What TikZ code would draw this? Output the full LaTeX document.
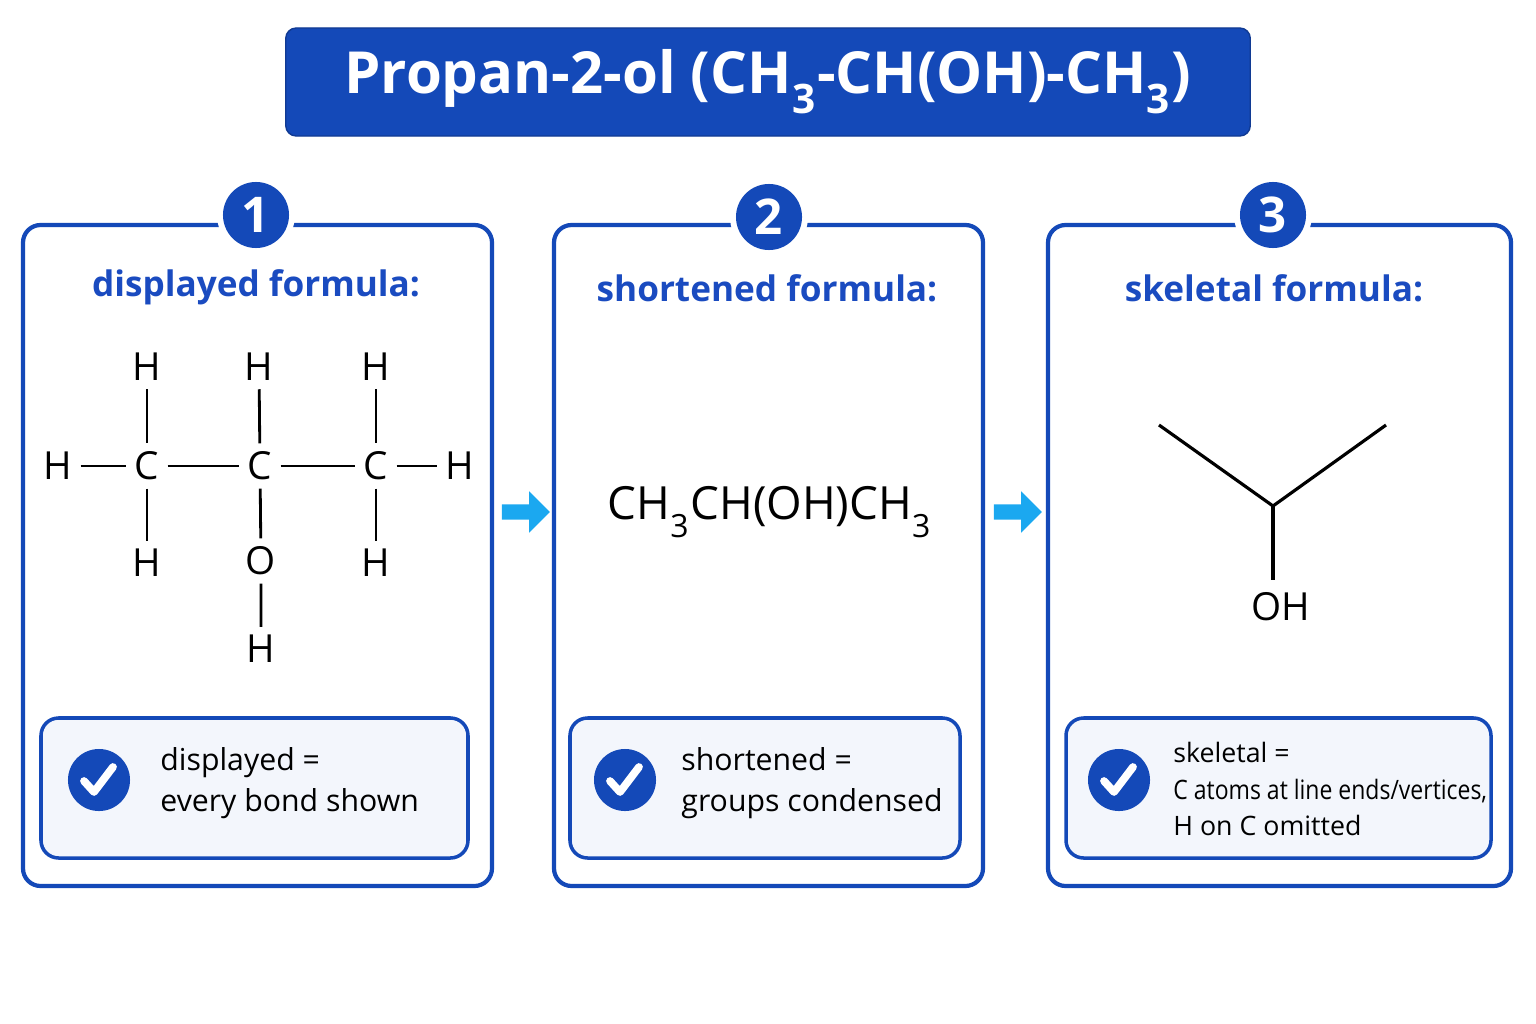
\documentclass[tikz,border=0pt]{standalone}
\usepackage{fontspec}
\setmainfont{Open Sans}
\usetikzlibrary{shapes.arrows}
\definecolor{navy}{HTML}{1449B8}
\definecolor{headblue}{HTML}{1A4BC0}
\definecolor{sky}{HTML}{1BA8F0}
\definecolor{pale}{HTML}{F3F6FC}
\newcommand{\lowsub}[1]{\raisebox{-0.35ex}{\textsubscript{#1}}}
\tikzset{
  panel/.style={draw=navy, line width=1.2pt, rounded corners=5pt, fill=white},
  note/.style={draw=navy, line width=1pt, rounded corners=5pt, fill=pale},
  num/.style={circle, fill=navy, text=white, minimum size=0.66cm, inner sep=0pt, font=\bfseries\fontsize{14}{14}\selectfont},
  tick/.style={circle, fill=navy, minimum size=0.62cm, inner sep=0pt},
  head/.style={text=headblue, font=\bfseries\fontsize{10}{12}\selectfont},
  atom/.style={inner sep=2.2pt, font=\fontsize{11}{12}\selectfont},
  bond/.style={line width=0.8pt},
  arr/.style={single arrow, fill=sky, inner sep=0.07cm, single arrow head extend=0.13cm, minimum height=0.48cm, text width=0pt}
}
\begin{document}
\begin{tikzpicture}[x=0.01cm,y=-0.01cm]
\useasboundingbox (0,0) rectangle (1536,1024);

% title
\node[draw=navy!80!black, fill=navy, rounded corners=3pt, minimum width=9.64cm, minimum height=1.08cm, text=white,
  font=\bfseries\fontsize{16.5}{20}\selectfont] (title) at (768,82) {Propan-2-ol (CH\lowsub{3}-CH(OH)-CH\lowsub{3})};

% panels
\draw[panel] (23,225) rectangle (492,886);
\draw[panel] (554,225) rectangle (983,886);
\draw[panel] (1048,225) rectangle (1511,886);

% numbers
\foreach \x/\y/\n in {256/215/1, 769/217/2, 1273/215/3}{
  \fill[white] (\x,\y) circle (39);
  \node[num] (n\n) at (\x,\y) {\n};
}

\node[head] (h1) at (256,287) {displayed formula:};
\node[head] (h2) at (767,288) {shortened formula:};
\node[head] (h3) at (1274,288) {skeletal formula:};

% displayed formula
\node[atom] (c1) at (147,466) {C};
\node[atom] (c2) at (260,466) {C};
\node[atom] (c3) at (376,466) {C};
\node[atom] (hl) at (58,466) {H};
\node[atom] (hr) at (460,466) {H};
\node[atom] (t1) at (147,367) {H};
\node[atom] (t2) at (259,367) {H};
\node[atom] (t3) at (376,367) {H};
\node[atom] (b1) at (147,563) {H};
\node[atom] (o) at (261,561) {O};
\node[atom] (b3) at (376,563) {H};
\node[atom] (ho) at (261,649) {H};
\draw[bond] (hl) -- (c1) -- (c2) -- (c3) -- (hr);
\draw[bond] (t1) -- (c1) -- (b1);
\draw[bond] (t2) -- (c2) -- (o) -- (ho);
\draw[bond] (t3) -- (c3) -- (b3);

% shortened formula
\node[font=\fontsize{13}{14}\selectfont] (sf) at (770,512) {CH\lowsub{3}CH(OH)CH\lowsub{3}};

% skeletal formula
\coordinate (k1) at (1159,425);
\coordinate (k2) at (1273,506);
\coordinate (k3) at (1386,425);
\node[atom] (oh) at (1281,607) {OH};
\draw[bond, line width=0.9pt] (k1) -- (k2) -- (k3);
\draw[bond, line width=0.9pt] (k2) -- (1273,580);

% arrows
\node[arr] (a1) at (522,512) {};
\node[arr] (a2) at (1014,512) {};

% notes
\draw[note] (41,718) rectangle (468,858);
\draw[note] (570,718) rectangle (960,858);
\draw[note] (1066,718) rectangle (1491,858);
\foreach \x/\n in {99/1, 625/2, 1119/3}{
  \node[tick] (k\n) at (\x,780) {};
  \draw[white, line width=2.2pt, line cap=round, line join=round] (\x-15,781) -- (\x-5,792) -- (\x+14,767);
}
\node[anchor=west, align=left, font=\fontsize{8.6}{11.6}\selectfont] (t1) at (148,783) {displayed =\\every bond shown};
\node[anchor=west, align=left, font=\fontsize{8.6}{11.6}\selectfont] (t2) at (669,783) {shortened =\\groups condensed};
\node[anchor=west, align=left, font=\fontsize{7.6}{10.3}\selectfont] (t3) at (1161,789) {skeletal =\\\addfontfeature{FakeStretch=0.86}C atoms at line ends/vertices,\\H on C omitted};
\end{tikzpicture}
\end{document}
